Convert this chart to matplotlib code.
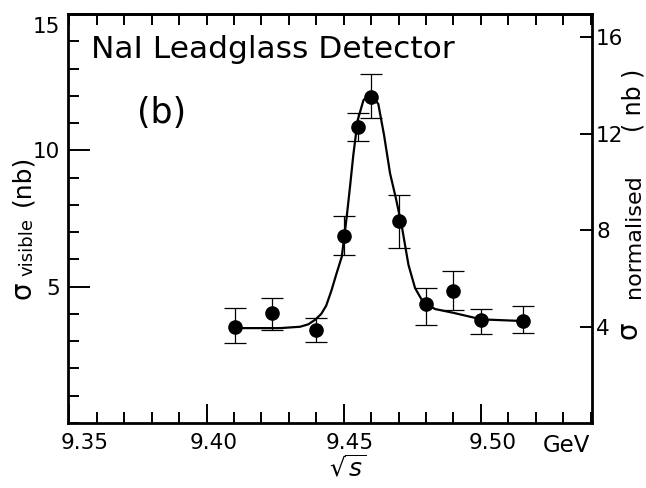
import matplotlib
matplotlib.use("Agg")
import matplotlib.pyplot as plt
import matplotlib.transforms as mtransforms
from matplotlib.ticker import MultipleLocator, FixedLocator

# ---- data ----
energy = [9.4103, 9.4238, 9.4399, 9.4501, 9.4551, 9.4600, 9.4700, 9.4800, 9.4900, 9.5000, 9.5152]
sigma = [3.52, 4.02, 3.41, 6.86, 10.87, 11.94, 7.42, 4.35, 4.84, 3.78, 3.75]
err_lo = [0.59, 0.61, 0.43, 0.70, 0.53, 0.75, 1.00, 0.76, 0.70, 0.52, 0.45]
err_hi = [0.71, 0.56, 0.44, 0.73, 0.50, 0.85, 0.94, 0.60, 0.74, 0.40, 0.55]

fit_x = [9.4103, 9.4268, 9.4341, 9.4371, 9.4395, 9.4418, 9.4436, 9.4455, 9.4474, 9.4493, 9.4502,
         9.4511, 9.4523, 9.4535, 9.4551, 9.4572, 9.4596, 9.4626, 9.4647, 9.4669, 9.4690,
         9.4712, 9.4736, 9.4760, 9.4790, 9.4833, 9.4900, 9.5002, 9.5153]
fit_y = [3.48, 3.48, 3.53, 3.62, 3.78, 4.00, 4.30, 4.85, 5.49, 6.10, 6.83,
         7.57, 8.67, 9.83, 11.11, 11.84, 12.09, 11.70, 10.56, 9.15, 8.25,
         7.20, 5.80, 4.95, 4.42, 4.18, 4.04, 3.80, 3.74]

x_major = [9.35, 9.40, 9.45, 9.50]
x_labels = ["9.35", "9.40", "9.45", "9.50"]
y_left_major = [5, 10, 15]
y_right_major = [4, 8, 12, 16]

W, H = 646, 488
fig = plt.figure(figsize=(W / 100, H / 100), dpi=100)
fig.patch.set_facecolor("white")
ax = fig.add_axes([68 / W, 1 - 423 / H, (592 - 68) / W, (423 - 14) / H])

ax.plot(fit_x, fit_y, color="black", lw=1.6, zorder=2, solid_joinstyle="round")
ax.errorbar(energy, sigma, yerr=[err_lo, err_hi], fmt="o", color="black",
            ms=9.5, ecolor="black", elinewidth=0.9, capsize=8, capthick=0.9, zorder=3)

ax.set_xlim(9.3495, 9.5405)
ax.set_ylim(0, 15)

for s in ax.spines.values():
    s.set_linewidth(2.0)

ax.xaxis.set_major_locator(FixedLocator(x_major))
ax.set_xticklabels(x_labels)
ax.xaxis.set_minor_locator(MultipleLocator(0.01))
ax.yaxis.set_major_locator(FixedLocator(y_left_major))
ax.yaxis.set_minor_locator(MultipleLocator(1))

ax.tick_params(axis="x", which="major", direction="in", length=14, width=1.4,
               labelsize=15.5, pad=7, top=False)
ax.tick_params(axis="y", which="major", direction="in", length=16, width=1.4,
               labelsize=15.5, pad=6, right=False)
ax.tick_params(axis="both", which="minor", direction="in", length=8, width=1.4,
               right=False, top=False)

# shift x tick labels a little right as in the original lettering
offs = [15, 7, 6, 12]
for lbl, o in zip(ax.get_xticklabels(), offs):
    lbl.set_transform(lbl.get_transform() + mtransforms.ScaledTranslation(o / 100, 0, fig.dpi_scale_trans))
for lbl in ax.get_yticklabels():
    if lbl.get_text() == "15":
        lbl.set_transform(lbl.get_transform() + mtransforms.ScaledTranslation(0, -11 / 100, fig.dpi_scale_trans))

# top ticks
top = ax.secondary_xaxis("top")
top.xaxis.set_major_locator(MultipleLocator(0.01))
top.tick_params(direction="in", length=8, width=1.4, labeltop=False)
top.spines["top"].set_linewidth(2.0)

# right axis
ax2 = ax.twinx()
ax2.set_ylim(0, 16.97)
ax2.yaxis.set_major_locator(FixedLocator(y_right_major))
ax2.tick_params(axis="y", which="major", direction="in", length=9, width=1.4,
                labelsize=15.5, pad=3)
for s in ax2.spines.values():
    s.set_visible(False)

def px(x, y):
    return x / W, 1 - y / H

fig.text(*px(91, 50), "NaI Leadglass Detector", fontsize=22.5, ha="left", va="center")
fig.text(*px(137, 113), "(b)", fontsize=25, ha="left", va="center")
fig.text(*px(566, 445), "GeV", fontsize=16.5, ha="center", va="center")
fig.text(*px(348, 468), r"$\sqrt{s}$", fontsize=18, ha="center", va="center")

# left y label pieces
fig.text(*px(22, 290), "σ", fontsize=20, rotation=90, ha="center", va="center")
fig.text(*px(27, 247), "visible", fontsize=13, rotation=90, ha="center", va="center")
fig.text(*px(22, 180), "(nb)", fontsize=18, rotation=90, ha="center", va="center")

# right y label pieces
fig.text(*px(629, 330), "σ", fontsize=20, rotation=90, ha="center", va="center")
fig.text(*px(634, 236), "normalised", fontsize=16, rotation=90, ha="center", va="center")
fig.text(*px(634, 100), "( nb )", fontsize=17, rotation=90, ha="center", va="center")

fig.savefig("out.png", dpi=100, facecolor="white")
